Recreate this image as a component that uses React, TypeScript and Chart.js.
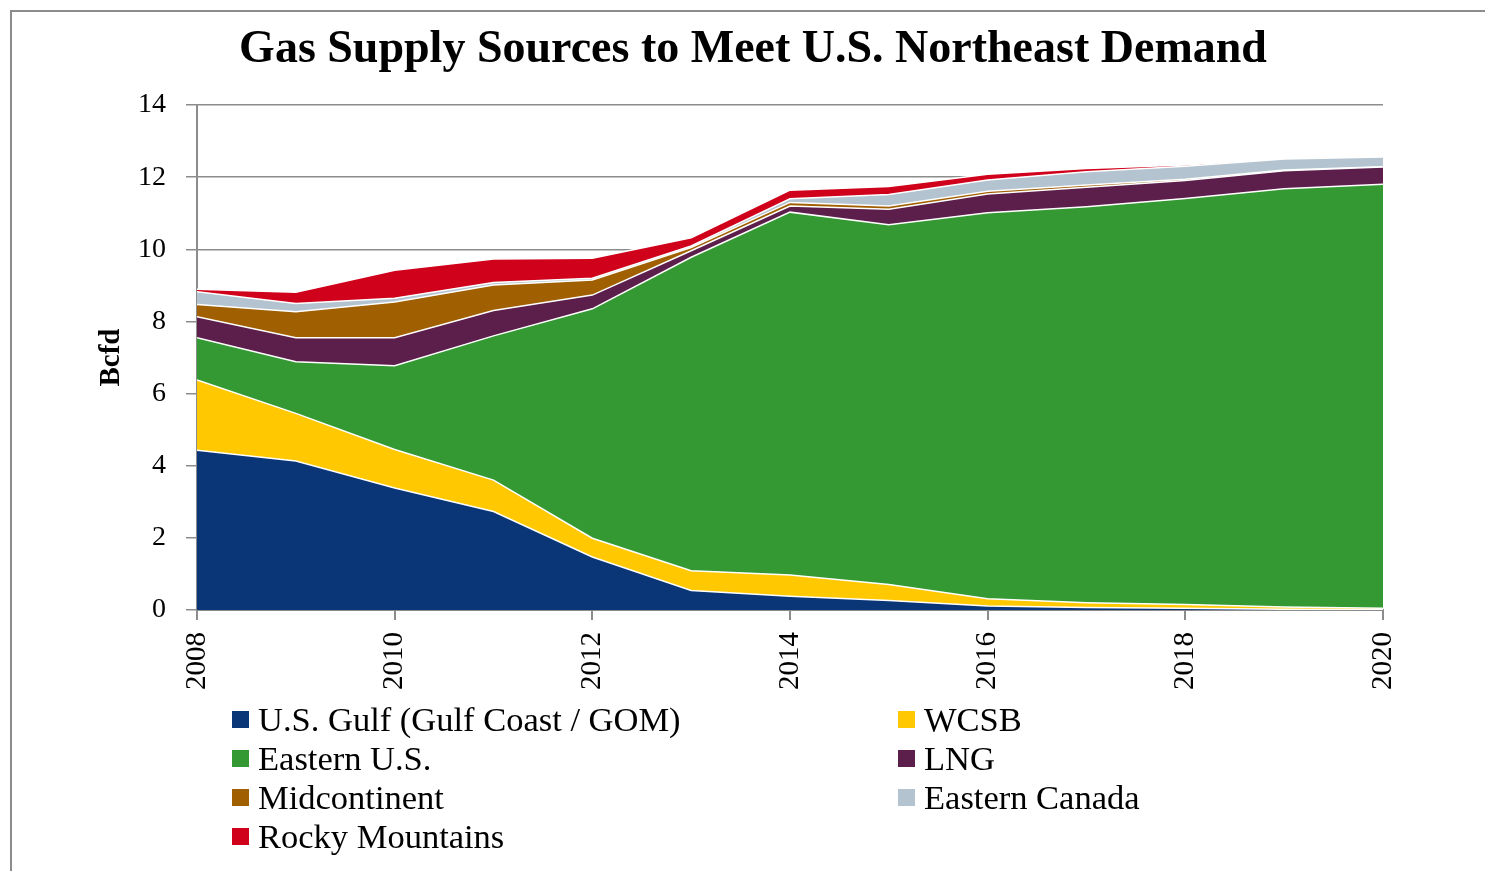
import React, { useEffect, useRef } from "react";
import { Chart, registerables } from "chart.js";

Chart.register(...registerables);

const years = [2008, 2009, 2010, 2011, 2012, 2013, 2014, 2015, 2016, 2017, 2018, 2019, 2020];

const gulf = [4.43, 4.13, 3.38, 2.73, 1.47, 0.54, 0.38, 0.26, 0.11, 0.07, 0.05, 0.02, 0.01];
const wcsb = [1.95, 1.32, 1.07, 0.87, 0.52, 0.55, 0.59, 0.45, 0.2, 0.13, 0.1, 0.06, 0.04];
const easternUS = [1.17, 1.43, 2.32, 4.0, 6.36, 8.69, 10.06, 9.97, 10.7, 10.98, 11.26, 11.6, 11.75];
const lng = [0.58, 0.67, 0.78, 0.7, 0.38, 0.18, 0.17, 0.43, 0.52, 0.54, 0.5, 0.5, 0.48];
const midcontinent = [0.34, 0.72, 0.99, 0.71, 0.42, 0.09, 0.1, 0.09, 0.08, 0.06, 0.03, 0.02, 0.01];
const easternCanada = [0.35, 0.23, 0.1, 0.07, 0.05, 0.04, 0.1, 0.32, 0.31, 0.37, 0.36, 0.3, 0.27];
const rockyMountains = [0.07, 0.31, 0.78, 0.65, 0.55, 0.23, 0.24, 0.22, 0.16, 0.09, 0.04, 0.01, 0.0];

const seriesLabels = [
  "U.S. Gulf (Gulf Coast / GOM)",
  "WCSB",
  "Eastern U.S.",
  "LNG",
  "Midcontinent",
  "Eastern Canada",
  "Rocky Mountains",
];
const seriesValues = [gulf, wcsb, easternUS, lng, midcontinent, easternCanada, rockyMountains];
const seriesColors = ["#0a3577", "#ffc800", "#349933", "#5c1e4a", "#a05f00", "#b3c3cf", "#d0021b"];

const xTickValues = [2008, 2010, 2012, 2014, 2016, 2018, 2020];
const yTickValues = [0, 2, 4, 6, 8, 10, 12, 14];

const titleText = "Gas Supply Sources to Meet U.S. Northeast Demand";
const yAxisTitle = "Bcfd";

const SERIF = "'Liberation Serif', 'Times New Roman', serif";
const AXIS_GRAY = "#8c8c8c";

export default function App() {
  const canvasRef = useRef<HTMLCanvasElement | null>(null);

  useEffect(() => {
    const canvas = canvasRef.current;
    if (!canvas) return;
    const chart = new Chart(canvas, {
      type: "line",
      data: {
        datasets: seriesValues.map((vals, i) => ({
          label: seriesLabels[i],
          data: years.map((x, j) => ({ x, y: vals[j] })),
          backgroundColor: seriesColors[i],
          borderColor: "#ffffff",
          borderWidth: 1.5,
          pointRadius: 0,
          tension: 0,
          fill: i === 0 ? "origin" : "-1",
        })),
      },
      options: {
        responsive: false,
        animation: false,
        devicePixelRatio: 1,
        layout: { padding: { left: 94, top: 105, right: 102, bottom: 0 } },
        plugins: {
          legend: { display: false },
          tooltip: { enabled: false },
          title: { display: false },
        },
        scales: {
          x: {
            type: "linear",
            min: 2008,
            max: 2020,
            afterBuildTicks: (s: any) => {
              s.ticks = xTickValues.map((v) => ({ value: v }));
            },
            afterFit: (s: any) => {
              s.height = 261;
            },
            ticks: {
              autoSkip: false,
              minRotation: 90,
              maxRotation: 90,
              padding: 12,
              color: "#000",
              font: { family: SERIF, size: 29 },
              callback: (v: any) => String(v),
            },
            grid: {
              drawOnChartArea: false,
              drawTicks: true,
              tickLength: 10,
              color: AXIS_GRAY,
              lineWidth: 2,
            },
            border: { display: true, color: AXIS_GRAY, width: 2 },
          },
          y: {
            stacked: true,
            min: 0,
            max: 14,
            afterBuildTicks: (s: any) => {
              s.ticks = yTickValues.map((v) => ({ value: v }));
            },
            afterFit: (s: any) => {
              s.width = 103;
            },
            ticks: {
              padding: 20,
              color: "#000",
              font: { family: SERIF, size: 28 },
              callback: (v: any) => String(v),
            },
            grid: {
              color: AXIS_GRAY,
              lineWidth: 1.5,
              tickLength: 11,
            },
            border: { display: true, color: AXIS_GRAY, width: 2 },
            title: {
              display: true,
              text: yAxisTitle,
              color: "#000",
              font: { family: SERIF, size: 29, weight: "bold" },
              padding: 0,
            },
          },
        },
      } as any,
    });
    return () => chart.destroy();
  }, []);

  const rowCenters = [719, 758, 797, 836];
  const colX = [232, 898];

  return (
    <div
      style={{
        position: "absolute",
        left: 0,
        top: 0,
        width: 1485,
        height: 871,
        overflow: "hidden",
        background: "#fff",
        fontFamily: SERIF,
      }}
    >
      <div
        style={{
          position: "absolute",
          left: 10,
          top: 10,
          width: 1500,
          height: 900,
          borderTop: `2px solid ${AXIS_GRAY}`,
          borderLeft: `2px solid ${AXIS_GRAY}`,
        }}
      />
      <canvas
        ref={canvasRef}
        width={1485}
        height={871}
        style={{ position: "absolute", left: 0, top: 0, display: "block" }}
      />
      <div
        style={{
          position: "absolute",
          left: 0,
          width: 1506,
          top: 24,
          textAlign: "center",
          fontSize: 46,
          lineHeight: "45px",
          fontWeight: "bold",
          color: "#000",
          whiteSpace: "nowrap",
        }}
      >
        {titleText}
      </div>
      {seriesLabels.map((label, i) => {
        const row = Math.floor(i / 2);
        const col = i % 2;
        const cy = rowCenters[row];
        return (
          <div
            key={label}
            style={{
              position: "absolute",
              left: colX[col],
              top: cy - 20,
              height: 40,
              display: "flex",
              alignItems: "center",
              whiteSpace: "nowrap",
            }}
          >
            <span
              style={{
                display: "inline-block",
                width: 17,
                height: 17,
                background: seriesColors[i],
                marginRight: 9,
              }}
            />
            <span style={{ fontSize: 34.5, lineHeight: "40px", color: "#000" }}>{label}</span>
          </div>
        );
      })}
    </div>
  );
}
